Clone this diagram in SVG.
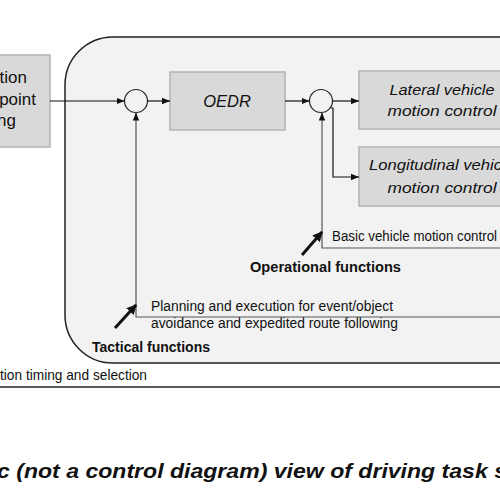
<svg xmlns="http://www.w3.org/2000/svg" width="500" height="500" viewBox="0 0 500 500">
<defs>
<style>
.box{fill:#d9d9d9;stroke:#b3b3b3;stroke-width:1.5}
.t{font-family:"Liberation Sans",Arial,sans-serif;fill:#111}
.it{font-style:italic}
.b{font-weight:bold}
.conn{stroke:#111;stroke-width:1.2;fill:none}
.frame{stroke:#555;stroke-width:1.2;fill:none}
.big{stroke:#111;stroke-width:3;fill:none}
</style>
<marker id="ah" viewBox="0 0 8 8" refX="8" refY="4" markerWidth="8" markerHeight="8" markerUnits="userSpaceOnUse" orient="auto">
<path d="M0,0.8 L8,4 L0,7.2 z" fill="#111"/>
</marker>
<marker id="bh" viewBox="0 0 10 10" refX="9" refY="5" markerWidth="10" markerHeight="10" markerUnits="userSpaceOnUse" orient="auto">
<path d="M0,0 L10,5 L0,10 z" fill="#111"/>
</marker>
</defs>
<rect width="500" height="500" fill="#fff"/>
<line x1="0" y1="387" x2="500" y2="387" stroke="#222" stroke-width="1.5"/>
<text class="t" font-size="14.5" x="0" y="380" textLength="147" lengthAdjust="spacingAndGlyphs">tion timing and selection</text>
<g id="container">
<rect x="65" y="37" width="480" height="326" rx="48" ry="48" fill="#f2f2f2" stroke="#222" stroke-width="1.5"/>
</g>
<g id="left-box">
<rect class="box" x="-10" y="55" width="60" height="92"/>
<text class="t" font-size="17" text-anchor="end" x="27" y="83">tion</text>
<text class="t" font-size="17" text-anchor="end" x="36" y="105">point</text>
<text class="t" font-size="17" text-anchor="end" x="16" y="126">ng</text>
</g>
<g id="sum1"><circle cx="136" cy="101" r="11.5" fill="#f2f2f2" stroke="#222" stroke-width="1.2"/></g>
<g id="oedr">
<rect class="box" x="170" y="72" width="115" height="58"/>
<text class="t it" font-size="16.5" text-anchor="middle" x="227" y="107">OEDR</text>
</g>
<g id="sum2"><circle cx="321" cy="101" r="11.5" fill="#f2f2f2" stroke="#222" stroke-width="1.2"/></g>
<g id="lateral">
<rect class="box" x="359" y="71" width="160" height="58"/>
<text class="t it" font-size="15.5" text-anchor="middle" x="442" y="95" textLength="105" lengthAdjust="spacingAndGlyphs">Lateral vehicle</text>
<text class="t it" font-size="15.5" text-anchor="middle" x="442" y="116" textLength="109" lengthAdjust="spacingAndGlyphs">motion control</text>
</g>
<g id="longitudinal">
<rect class="box" x="359" y="147" width="160" height="59"/>
<text class="t it" font-size="15.5" x="369" y="170" textLength="133" lengthAdjust="spacingAndGlyphs">Longitudinal vehic</text>
<text class="t it" font-size="15.5" text-anchor="middle" x="442" y="193" textLength="109" lengthAdjust="spacingAndGlyphs">motion control</text>
</g>
<g id="operational">
<text class="t" font-size="14" x="332" y="241" textLength="165" lengthAdjust="spacingAndGlyphs">Basic vehicle motion control</text>
<text class="t b" font-size="14.5" x="250" y="272" textLength="151" lengthAdjust="spacingAndGlyphs">Operational functions</text>
</g>
<g id="tactical">
<text class="t" font-size="14" x="151" y="311" textLength="242" lengthAdjust="spacingAndGlyphs">Planning and execution for event/object</text>
<text class="t" font-size="14" x="151" y="328" textLength="247" lengthAdjust="spacingAndGlyphs">avoidance and expedited route following</text>
<text class="t b" font-size="14.5" x="92" y="352" textLength="118" lengthAdjust="spacingAndGlyphs">Tactical functions</text>
</g>
<g id="caption">
<text class="t it b" font-size="20" x="-3" y="478" textLength="510" lengthAdjust="spacingAndGlyphs">c (not a control diagram) view of driving task s</text>
</g>
<g id="connectors">
<line class="conn" x1="50" y1="101" x2="124.5" y2="101" marker-end="url(#ah)"/>
<line class="conn" x1="147.5" y1="101" x2="170" y2="101" marker-end="url(#ah)"/>
<line class="conn" x1="285" y1="101" x2="309.5" y2="101" marker-end="url(#ah)"/>
<line class="conn" x1="332.5" y1="101" x2="359" y2="101" marker-end="url(#ah)"/>
<polyline class="conn" points="331,108 333,108 333,177 359,177" marker-end="url(#ah)"/>
<polyline class="frame" points="500,248 322,248 322,112.5" marker-end="url(#ah)"/>
<polyline class="frame" points="500,317 136,317 136,112.5" stroke="#777" marker-end="url(#ah)"/>
<line class="big" x1="302" y1="255" x2="322" y2="232" marker-end="url(#bh)"/>
<line class="big" x1="115" y1="328" x2="136" y2="305" marker-end="url(#bh)"/>
</g>
</svg>
